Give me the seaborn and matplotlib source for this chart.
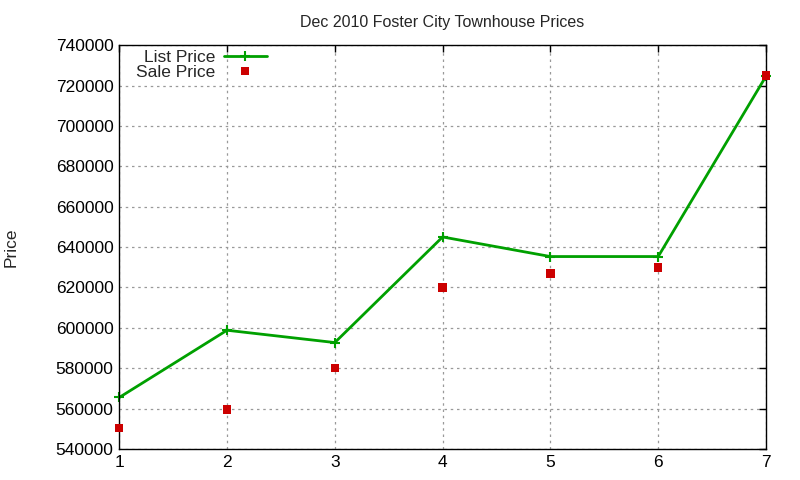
import matplotlib
matplotlib.use("Agg")
import matplotlib.pyplot as plt
from matplotlib.lines import Line2D
import seaborn as sns
import pandas as pd

house = [1, 2, 3, 4, 5, 6, 7]
list_price = [565500, 598800, 592700, 645000, 635300, 635300, 724600]
sale_price = [550300, 559600, 580000, 620000, 627000, 630000, 725000]
yticks = [540000, 560000, 580000, 600000, 620000, 640000, 660000, 680000, 700000, 720000, 740000]

df = pd.DataFrame({"House": house, "List Price": list_price, "Sale Price": sale_price})

sns.set_style("white")
plt.rcParams['font.family'] = ['Liberation Sans', 'DejaVu Sans']

GREEN = "#00a000"
RED = "#cc0000"

fig = plt.figure(figsize=(8, 4.8), dpi=100)
ax = fig.add_axes([0.149, 0.0646, 0.8085, 0.8414])

sns.lineplot(data=df, x="House", y="List Price", ax=ax, color=GREEN, linewidth=2,
             marker="+", markersize=7, markeredgewidth=1.5, markeredgecolor=GREEN,
             legend=False, clip_on=False)
sns.scatterplot(data=df, x="House", y="Sale Price", ax=ax, color=RED, marker="s",
                s=38, edgecolor="none", legend=False, zorder=3, clip_on=False)

ax.set_xlim(1, 7)
ax.set_ylim(540000, 740000)
ax.set_xticks(house)
ax.set_yticks(yticks)
ax.set_xticklabels([str(h) for h in house], fontsize=12.5)
ax.set_yticklabels([str(v) for v in yticks], fontsize=12.5)
ax.grid(True, color="#999999", linestyle=(0, (2, 3)), linewidth=0.9)
ax.tick_params(direction="in", length=5, width=1, top=True, right=True, pad=4, colors="black")
for s in ax.spines.values():
    s.set_color("black")
    s.set_linewidth(1.0)

ax.set_xlabel("")
ax.set_ylabel("Price", fontsize=12.5)
ax.yaxis.set_label_coords(-0.155, 0.5)
ax.set_title("Dec 2010 Foster City Townhouse Prices", fontsize=11.5, pad=13)

handles = [
    Line2D([], [], color=GREEN, linewidth=2, marker="+", markersize=7, markeredgewidth=1.5),
    Line2D([], [], color=RED, linestyle="none", marker="s", markersize=6, markeredgewidth=0),
]
leg = ax.legend(handles, ["List Price", "Sale Price"], loc="upper right",
                bbox_to_anchor=(267 / 800, 1 - 50 / 480), bbox_transform=fig.transFigure,
                frameon=False, markerfirst=False, fontsize=12.5, handlelength=2.5,
                labelspacing=0.0, borderaxespad=0, borderpad=0, handletextpad=0.5)
for t in leg.get_texts():
    t.set_ha("right")

fig.savefig("out.png", dpi=100)
